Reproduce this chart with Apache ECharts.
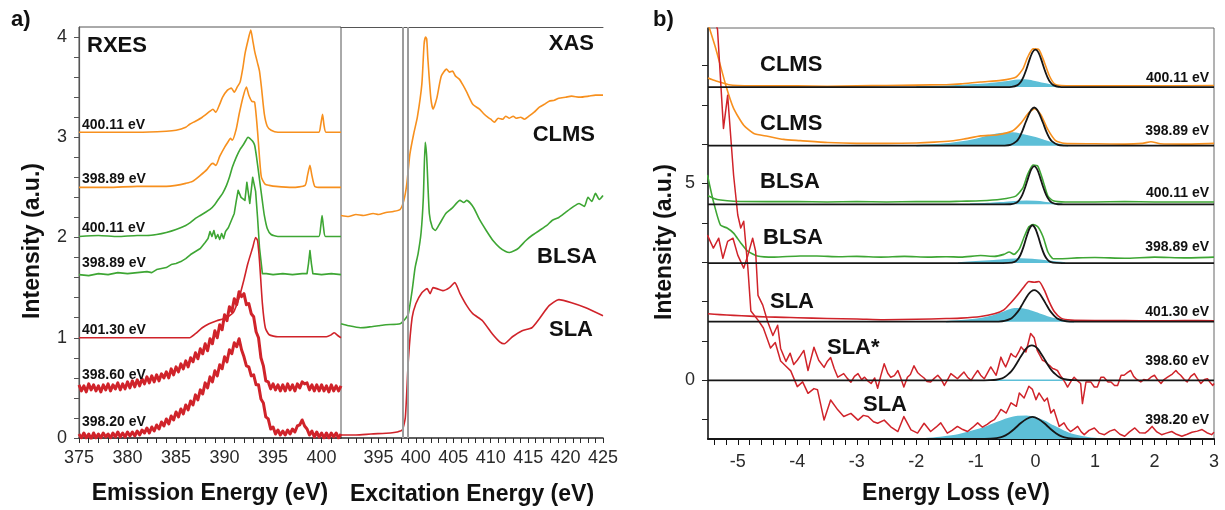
<!DOCTYPE html>
<html>
<head>
<meta charset="utf-8">
<script src="https://cdn.jsdelivr.net/npm/echarts@6/dist/echarts.min.js"></script>
<style>
  html, body { margin: 0; padding: 0; background: #ffffff; }
  #chart { width: 1225px; height: 510px; }
</style>
</head>
<body>
<div id="chart"></div>
<script>
// ---------- Panel a, left: RXES spectra [emission energy eV, intensity a.u.] ----------
const rxesClms40011 = [[375,3.05],[378,3.05],[381,3.05],[384,3.06],[385,3.07],[386,3.10],[386.4,3.13],[387,3.16],[387.7,3.20],[388.5,3.26],[388.8,3.28],[389.1,3.25],[389.5,3.33],[389.8,3.40],[390.3,3.47],[390.7,3.49],[391.0,3.45],[391.3,3.50],[391.6,3.55],[391.9,3.70],[392.1,3.83],[392.4,3.96],[392.7,4.07],[392.9,3.97],[393.1,3.86],[393.4,3.74],[393.6,3.66],[393.8,3.50],[394.1,3.23],[394.4,3.11],[394.8,3.07],[395.5,3.05],[399.7,3.05],[399.9,3.12],[400.1,3.23],[400.25,3.12],[400.45,3.05],[402,3.05]];
const rxesClms39889 = [[375,2.50],[378,2.50],[381,2.51],[384,2.51],[385,2.52],[386,2.54],[386.7,2.56],[387.5,2.62],[388.2,2.68],[388.6,2.73],[388.8,2.74],[389.1,2.72],[389.5,2.81],[390.0,2.90],[390.4,2.96],[390.6,2.99],[390.8,2.97],[391.2,3.08],[391.5,3.23],[391.9,3.40],[392.25,3.50],[392.5,3.42],[392.8,3.36],[393.1,3.35],[393.4,3.06],[393.6,2.80],[393.8,2.60],[394.2,2.53],[394.6,2.52],[395.3,2.51],[397,2.50],[398.3,2.52],[398.55,2.62],[398.8,2.72],[399.0,2.62],[399.3,2.51],[400,2.50],[402,2.50]];
const rxesBlsa40011 = [[375,2.01],[377,2.02],[379,2.01],[381,2.02],[382,2.02],[383,2.03],[384,2.05],[385,2.08],[386,2.12],[386.5,2.15],[387,2.19],[387.5,2.22],[388,2.25],[388.5,2.28],[389,2.33],[389.5,2.40],[389.8,2.44],[390.2,2.52],[390.5,2.60],[390.8,2.70],[391.2,2.80],[391.6,2.88],[391.9,2.92],[392.2,2.97],[392.4,3.00],[392.6,2.99],[392.9,2.96],[393.1,2.92],[393.3,2.80],[393.6,2.58],[393.9,2.36],[394.1,2.22],[394.4,2.09],[394.8,2.03],[395.5,2.01],[397,2.01],[399.7,2.01],[399.9,2.10],[400.05,2.22],[400.2,2.10],[400.4,2.01],[402,2.01]];
const rxesBlsa39889 = [[375,1.63],[376,1.62],[377,1.64],[378,1.63],[379,1.65],[380,1.64],[381,1.65],[382,1.66],[382.5,1.65],[383,1.68],[383.5,1.69],[384,1.70],[384.5,1.73],[385,1.74],[385.5,1.76],[386,1.79],[386.5,1.83],[387,1.86],[387.5,1.89],[388,1.95],[388.3,1.99],[388.5,2.06],[388.7,2.01],[388.9,2.07],[389.1,1.99],[389.3,2.03],[389.5,1.98],[389.7,2.04],[389.9,1.99],[390.1,2.06],[390.4,2.10],[390.7,2.17],[391.0,2.24],[391.2,2.36],[391.4,2.47],[391.7,2.40],[392.1,2.37],[392.3,2.55],[392.6,2.34],[392.9,2.60],[393.2,2.46],[393.4,2.20],[393.6,1.90],[393.9,1.64],[394.3,1.64],[395,1.63],[396,1.64],[397,1.63],[398,1.64],[398.5,1.64],[398.65,1.74],[398.8,1.87],[398.95,1.74],[399.1,1.64],[400,1.63],[401,1.64],[402,1.63]];
const rxesSla40130 = [[375,1.0],[380,1.0],[386.4,1.0],[387.0,1.04],[387.7,1.10],[388.4,1.14],[389.2,1.17],[389.9,1.19],[390.5,1.22],[390.9,1.25],[391.5,1.40],[392.0,1.58],[392.4,1.74],[392.9,1.90],[393.2,2.00],[393.4,1.97],[393.6,1.77],[393.9,1.34],[394.2,1.10],[394.6,1.03],[395.5,1.01],[400.5,1.01],[401.0,1.03],[401.3,1.05],[401.7,1.02],[402,1.0]];
const rxesSla39860 = [[375,0.53],[375.25,0.47],[375.5,0.52],[375.75,0.46],[376,0.54],[376.25,0.48],[376.5,0.53],[376.75,0.47],[377,0.52],[377.25,0.46],[377.5,0.53],[377.75,0.48],[378,0.54],[378.25,0.47],[378.5,0.53],[378.75,0.49],[379,0.55],[379.25,0.48],[379.5,0.54],[379.75,0.49],[380,0.56],[380.25,0.50],[380.5,0.57],[380.75,0.51],[381,0.58],[381.25,0.52],[381.5,0.59],[381.75,0.54],[382,0.61],[382.25,0.55],[382.5,0.62],[382.75,0.56],[383,0.63],[383.25,0.57],[383.5,0.64],[383.75,0.60],[384,0.66],[384.25,0.60],[384.5,0.69],[384.75,0.63],[385,0.71],[385.25,0.66],[385.5,0.74],[385.75,0.69],[386,0.77],[386.25,0.71],[386.5,0.80],[386.75,0.76],[387,0.85],[387.25,0.79],[387.5,0.89],[387.75,0.84],[388,0.94],[388.25,0.87],[388.5,0.99],[388.75,0.94],[389,1.07],[389.25,1.00],[389.5,1.13],[389.75,1.08],[390,1.23],[390.25,1.17],[390.5,1.31],[390.75,1.26],[391,1.39],[391.25,1.33],[391.5,1.46],[391.75,1.41],[392,1.44],[392.25,1.33],[392.5,1.34],[392.75,1.24],[393,1.21],[393.25,1.06],[393.5,1.00],[393.75,0.80],[394,0.72],[394.25,0.57],[394.5,0.56],[394.75,0.49],[395,0.54],[395.25,0.48],[395.5,0.53],[395.75,0.47],[396,0.53],[396.25,0.47],[396.5,0.54],[396.75,0.48],[397,0.53],[397.25,0.47],[397.5,0.54],[397.75,0.50],[398,0.56],[398.25,0.54],[398.5,0.55],[398.75,0.48],[399,0.53],[399.25,0.47],[399.5,0.53],[399.75,0.47],[400,0.53],[400.25,0.47],[400.5,0.52],[400.75,0.46],[401,0.53],[401.25,0.47],[401.5,0.52],[401.75,0.47],[402,0.52]];
const rxesSla39820 = [[375,0.04],[375.25,0.00],[375.5,0.05],[375.75,0.00],[376,0.04],[376.25,-0.01],[376.5,0.05],[376.75,0.00],[377,0.04],[377.25,0.00],[377.5,0.05],[377.75,0.01],[378,0.04],[378.25,0.00],[378.5,0.05],[378.75,0.01],[379,0.06],[379.25,0.01],[379.5,0.05],[379.75,0.01],[380,0.06],[380.25,0.02],[380.5,0.06],[380.75,0.02],[381,0.07],[381.25,0.03],[381.5,0.08],[381.75,0.05],[382,0.10],[382.25,0.05],[382.5,0.11],[382.75,0.07],[383,0.13],[383.25,0.09],[383.5,0.16],[383.75,0.12],[384,0.19],[384.25,0.14],[384.5,0.22],[384.75,0.18],[385,0.26],[385.25,0.21],[385.5,0.29],[385.75,0.24],[386,0.33],[386.25,0.28],[386.5,0.37],[386.75,0.33],[387,0.43],[387.25,0.38],[387.5,0.48],[387.75,0.44],[388,0.55],[388.25,0.50],[388.5,0.61],[388.75,0.56],[389,0.67],[389.25,0.62],[389.5,0.73],[389.75,0.69],[390,0.81],[390.25,0.76],[390.5,0.88],[390.75,0.84],[391,0.95],[391.25,0.91],[391.5,0.99],[391.75,0.88],[392,0.81],[392.25,0.72],[392.5,0.71],[392.75,0.62],[393,0.63],[393.25,0.53],[393.5,0.53],[393.75,0.39],[394,0.35],[394.25,0.21],[394.5,0.19],[394.75,0.09],[395,0.11],[395.25,0.04],[395.5,0.08],[395.75,0.03],[396,0.07],[396.25,0.03],[396.5,0.08],[396.75,0.04],[397,0.09],[397.25,0.06],[397.5,0.12],[397.75,0.13],[398,0.18],[398.25,0.12],[398.5,0.09],[398.75,0.03],[399,0.07],[399.25,0.01],[399.5,0.06],[399.75,0.01],[400,0.05],[400.25,0.00],[400.5,0.05],[400.75,0.00],[401,0.05],[401.25,0.01],[401.5,0.05],[401.75,0.00],[402,0.04]];

// ---------- Panel a, right: XAS spectra [excitation energy eV, intensity a.u.] ----------
const xasClms = [[390,2.22],[391,2.21],[392,2.23],[393,2.22],[394.3,2.24],[395,2.23],[396,2.25],[397,2.26],[397.9,2.28],[398.4,2.37],[398.8,2.54],[399.2,2.83],[399.7,3.03],[400.2,3.20],[400.8,3.53],[401.1,3.93],[401.3,4.00],[401.45,3.98],[401.6,3.79],[402.0,3.39],[402.3,3.28],[402.8,3.39],[403.4,3.61],[404.1,3.68],[404.5,3.65],[404.9,3.66],[405.3,3.61],[405.8,3.58],[406.3,3.52],[406.8,3.45],[407.6,3.33],[408.5,3.28],[409.0,3.24],[409.6,3.20],[410.0,3.18],[410.5,3.15],[411.0,3.19],[411.6,3.18],[412.0,3.21],[412.5,3.19],[413.0,3.21],[413.4,3.19],[414.0,3.20],[414.5,3.18],[415.1,3.21],[415.8,3.25],[416.5,3.30],[417.2,3.33],[417.8,3.36],[418.5,3.37],[419.1,3.39],[420.0,3.40],[420.8,3.41],[421.9,3.40],[423.1,3.41],[424,3.42],[425,3.42]];
const xasBlsa = [[390,1.14],[391,1.12],[392.6,1.10],[394,1.11],[395,1.12],[396,1.13],[397.9,1.14],[398.6,1.19],[399.0,1.24],[399.5,1.47],[399.9,1.70],[400.3,1.84],[400.7,2.05],[401.0,2.40],[401.25,2.95],[401.45,2.80],[401.8,2.24],[402.2,2.10],[402.6,2.07],[403.2,2.14],[404.0,2.24],[404.8,2.29],[405.9,2.37],[406.4,2.35],[406.8,2.37],[407.7,2.30],[408.5,2.18],[409.4,2.07],[410.3,1.97],[411.2,1.90],[412.0,1.86],[412.5,1.85],[413.2,1.87],[413.8,1.90],[414.7,1.97],[415.5,2.02],[416.5,2.07],[417.5,2.12],[418.2,2.17],[419.1,2.20],[420.0,2.25],[420.9,2.30],[421.8,2.34],[422.5,2.31],[423.0,2.40],[423.5,2.36],[424.0,2.44],[424.5,2.38],[425,2.42]];
const xasSla = [[390,0.03],[392,0.03],[394,0.04],[396.6,0.05],[397.5,0.06],[398.2,0.08],[398.6,0.21],[399.0,0.78],[399.5,1.20],[400.0,1.34],[400.8,1.45],[401.5,1.49],[401.9,1.44],[402.3,1.50],[402.8,1.49],[403.6,1.47],[404.5,1.50],[405.2,1.55],[405.9,1.44],[406.8,1.32],[407.6,1.24],[408.9,1.17],[410.2,1.04],[411.2,0.96],[411.8,0.94],[412.9,1.01],[414.2,1.07],[415.5,1.10],[416.5,1.19],[417.8,1.32],[419.1,1.38],[420.8,1.35],[422.7,1.30],[425,1.22]];
const xasMarkers = [398.2, 398.89];

// ---------- Panel b: energy-loss spectra [energy loss eV, intensity above baseline] ----------
const lossOffsets = [7.45, 5.96, 4.47, 2.98, 1.49, 0, -1.49];

const clms40011Loss = [[-5.5,0.23],[-5.4,0.17],[-5.29,0.12],[-5.15,0.06],[-5.0,0.04],[-4.5,0.03],[-4.0,0.03],[-3.5,0.02],[-3.0,0.03],[-2.5,0.04],[-2.0,0.05],[-1.5,0.06],[-1.25,0.08],[-0.92,0.13],[-0.58,0.17],[-0.33,0.25],[-0.21,0.46],[-0.13,0.76],[-0.04,0.97],[0.06,0.95],[0.15,0.63],[0.23,0.30],[0.32,0.08],[0.43,0.04],[1.0,0.03],[2.0,0.03],[3.0,0.04]];
const clms40011Fit = [[-5.5,0],[-0.5,0],[-0.4,0.005],[-0.3,0.05],[-0.25,0.12],[-0.2,0.26],[-0.15,0.46],[-0.1,0.69],[-0.05,0.88],[0,0.95],[0.05,0.88],[0.1,0.69],[0.15,0.46],[0.2,0.26],[0.25,0.12],[0.3,0.05],[0.4,0.005],[0.5,0],[3,0]];
const clms40011Comp = [[-2.0,0],[-1.5,0.02],[-1.1,0.05],[-0.8,0.08],[-0.5,0.13],[-0.3,0.17],[-0.18,0.18],[-0.05,0.15],[0.1,0.10],[0.25,0.05],[0.4,0]];

const clms39889Loss = [[-5.5,3.1],[-5.37,2.47],[-5.20,1.53],[-5.07,0.95],[-4.90,0.52],[-4.73,0.31],[-4.50,0.24],[-4.23,0.16],[-3.95,0.13],[-3.49,0.08],[-3.0,0.06],[-2.5,0.06],[-2.0,0.07],[-1.7,0.09],[-1.42,0.12],[-1.2,0.17],[-0.92,0.25],[-0.63,0.28],[-0.38,0.38],[-0.24,0.58],[-0.11,0.84],[-0.01,0.94],[0.09,0.79],[0.21,0.41],[0.34,0.13],[0.48,0.06],[1.0,0.05],[1.5,0.04],[1.8,0.06],[1.94,0.10],[2.1,0.05],[2.5,0.04],[3.0,0.06]];
const clms39889Fit = [[-5.5,0],[-0.62,0],[-0.52,0.002],[-0.42,0.02],[-0.32,0.11],[-0.27,0.21],[-0.22,0.37],[-0.17,0.57],[-0.12,0.76],[-0.07,0.91],[-0.02,0.97],[0.03,0.91],[0.08,0.76],[0.13,0.57],[0.18,0.37],[0.23,0.21],[0.28,0.11],[0.38,0.02],[0.48,0.002],[0.58,0],[3,0]];
const clms39889Comp = [[-2.0,0],[-1.6,0.03],[-1.3,0.08],[-1.0,0.16],[-0.75,0.26],[-0.55,0.31],[-0.38,0.32],[-0.2,0.27],[0,0.20],[0.15,0.13],[0.3,0.06],[0.45,0.02],[0.55,0]];

const blsa40011Loss = [[-5.5,0.22],[-5.4,0.15],[-5.29,0.11],[-5.07,0.08],[-4.5,0.07],[-4.0,0.07],[-3.5,0.06],[-3.0,0.07],[-2.5,0.06],[-2.0,0.07],[-1.5,0.07],[-1.25,0.08],[-0.92,0.09],[-0.58,0.13],[-0.33,0.21],[-0.21,0.42],[-0.13,0.76],[-0.04,1.0],[0.04,0.97],[0.13,0.59],[0.21,0.21],[0.30,0.09],[0.5,0.06],[1.0,0.06],[1.5,0.07],[2.0,0.06],[2.5,0.06],[3.0,0.06]];
const blsa40011Fit = [[-5.5,0],[-0.52,0],[-0.42,0.003],[-0.32,0.04],[-0.27,0.11],[-0.22,0.24],[-0.17,0.44],[-0.12,0.68],[-0.07,0.89],[-0.02,0.97],[0.03,0.89],[0.08,0.68],[0.13,0.44],[0.18,0.24],[0.23,0.11],[0.28,0.04],[0.38,0.003],[0.48,0],[3,0]];
const blsa40011Comp = [[-1.1,0],[-0.8,0.02],[-0.5,0.05],[-0.3,0.07],[-0.15,0.08],[0,0.07],[0.15,0.05],[0.3,0.02],[0.45,0]];

const blsa39889Loss = [[-5.51,2.24],[-5.41,1.57],[-5.29,0.96],[-5.18,0.89],[-5.07,0.76],[-4.95,0.51],[-4.84,0.31],[-4.67,0.18],[-4.39,0.15],[-3.95,0.18],[-3.67,0.18],[-3.3,0.16],[-3.0,0.17],[-2.6,0.15],[-2.2,0.17],[-1.8,0.15],[-1.5,0.16],[-1.25,0.15],[-0.92,0.19],[-0.69,0.17],[-0.53,0.22],[-0.44,0.28],[-0.36,0.22],[-0.27,0.36],[-0.19,0.66],[-0.11,0.92],[-0.04,0.98],[0.04,0.92],[0.13,0.66],[0.21,0.28],[0.30,0.11],[0.43,0.11],[0.7,0.13],[1.0,0.14],[1.5,0.12],[2.0,0.15],[2.5,0.13],[3.0,0.15]];
const blsa39889Fit = [[-5.5,0],[-0.55,0],[-0.45,0.002],[-0.35,0.03],[-0.3,0.09],[-0.25,0.21],[-0.2,0.41],[-0.15,0.66],[-0.1,0.87],[-0.05,0.96],[0,0.87],[0.05,0.66],[0.1,0.41],[0.15,0.21],[0.2,0.09],[0.25,0.03],[0.35,0.002],[0.45,0],[3,0]];
const blsa39889Comp = [[-1.3,0],[-1.0,0.03],[-0.7,0.06],[-0.45,0.09],[-0.25,0.10],[-0.05,0.09],[0.15,0.06],[0.3,0.03],[0.5,0]];

const sla40130Loss = [[-5.5,0.20],[-5.3,0.18],[-5.07,0.16],[-4.8,0.14],[-4.5,0.12],[-4.23,0.11],[-4.0,0.10],[-3.5,0.08],[-3.0,0.07],[-2.55,0.05],[-2.0,0.06],[-1.5,0.08],[-1.25,0.09],[-0.92,0.13],[-0.69,0.20],[-0.53,0.30],[-0.42,0.47],[-0.30,0.68],[-0.19,0.89],[-0.11,1.02],[-0.02,1.0],[0.06,1.02],[0.15,0.80],[0.23,0.51],[0.32,0.25],[0.43,0.09],[0.6,0.04],[1.0,0.03],[1.5,0.03],[2.0,0.02],[2.5,0.03],[3.0,0.02]];
const sla40130Fit = [[-5.5,0],[-0.72,0],[-0.62,0.003],[-0.52,0.02],[-0.42,0.07],[-0.37,0.13],[-0.32,0.21],[-0.27,0.31],[-0.22,0.44],[-0.17,0.57],[-0.12,0.69],[-0.07,0.77],[-0.02,0.8],[0.03,0.77],[0.08,0.69],[0.13,0.57],[0.18,0.44],[0.23,0.31],[0.28,0.21],[0.33,0.13],[0.38,0.07],[0.48,0.02],[0.58,0.003],[0.68,0],[3,0]];
const sla40130Comp = [[-1.5,0],[-1.2,0.03],[-0.9,0.08],[-0.7,0.15],[-0.5,0.26],[-0.35,0.33],[-0.25,0.33],[-0.1,0.28],[0.05,0.2],[0.2,0.12],[0.35,0.06],[0.5,0.02],[0.65,0]];

const sla39860Loss = [[-5.51,3.69],[-5.41,3.36],[-5.32,3.61],[-5.25,3.10],[-5.17,3.53],[-5.08,3.61],[-5.0,3.18],[-4.90,2.85],[-4.83,3.18],[-4.75,3.61],[-4.70,3.28],[-4.66,2.16],[-4.58,1.91],[-4.50,1.50],[-4.41,1.14],[-4.33,1.40],[-4.28,0.81],[-4.19,0.48],[-4.12,0.69],[-4.06,0.40],[-4.0,0.51],[-3.95,0.62],[-3.89,0.76],[-3.82,0.25],[-3.77,0.55],[-3.72,0.84],[-3.64,0.51],[-3.55,0.33],[-3.50,0.47],[-3.44,0.58],[-3.38,0.30],[-3.32,0.08],[-3.22,0.17],[-3.16,0.05],[-3.10,-0.05],[-3.04,0.10],[-2.98,0.17],[-2.92,0.02],[-2.87,0.08],[-2.81,-0.02],[-2.76,-0.08],[-2.70,0.06],[-2.65,-0.20],[-2.60,0.10],[-2.54,0.42],[-2.48,0.18],[-2.43,0.08],[-2.37,0.12],[-2.31,0.25],[-2.26,0.05],[-2.21,-0.17],[-2.15,0.08],[-2.10,0.15],[-2.04,0.37],[-1.98,0.20],[-1.93,0.13],[-1.87,0.06],[-1.82,-0.03],[-1.76,-0.04],[-1.70,0.05],[-1.64,0.13],[-1.58,0.02],[-1.53,-0.13],[-1.47,0.03],[-1.42,0.17],[-1.36,0.10],[-1.31,0.04],[-1.26,0.12],[-1.20,0.21],[-1.14,0.08],[-1.08,0.0],[-1.03,0.12],[-0.97,0.25],[-0.92,0.13],[-0.86,0.04],[-0.80,0.20],[-0.75,0.34],[-0.70,0.22],[-0.66,0.13],[-0.62,0.35],[-0.58,0.59],[-0.54,0.45],[-0.50,0.34],[-0.45,0.52],[-0.41,0.68],[-0.37,0.62],[-0.33,0.59],[-0.28,0.72],[-0.24,0.85],[-0.20,0.78],[-0.16,0.72],[-0.12,0.95],[-0.08,1.19],[-0.05,1.14],[-0.02,1.08],[0.03,0.76],[0.08,0.62],[0.12,0.51],[0.16,0.48],[0.20,0.42],[0.25,0.36],[0.29,0.30],[0.33,0.28],[0.37,0.25],[0.42,0.12],[0.46,0.04],[0.50,-0.06],[0.54,-0.17],[0.60,-0.02],[0.65,0.08],[0.70,0.0],[0.76,-0.08],[0.79,-0.59],[0.85,-0.04],[0.93,-0.04],[0.99,-0.17],[1.04,-0.17],[1.10,0.08],[1.15,0.08],[1.22,-0.04],[1.27,-0.04],[1.33,-0.13],[1.38,-0.13],[1.44,0.13],[1.49,0.13],[1.55,0.20],[1.60,0.25],[1.65,0.10],[1.69,0.04],[1.77,-0.04],[1.82,0.02],[1.88,0.0],[1.94,0.08],[2.0,0.13],[2.05,0.02],[2.11,-0.08],[2.16,0.02],[2.22,0.08],[2.30,0.16],[2.36,0.25],[2.40,0.18],[2.44,0.13],[2.50,0.02],[2.55,-0.04],[2.61,0.10],[2.67,0.17],[2.72,0.05],[2.78,-0.08],[2.84,0.02],[2.89,0.04],[2.94,-0.06],[2.98,-0.13],[3.0,-0.08]];
const sla39860Fit = [[-5.5,0],[-0.86,0],[-0.76,0.003],[-0.66,0.015],[-0.56,0.05],[-0.51,0.09],[-0.46,0.15],[-0.41,0.22],[-0.36,0.32],[-0.31,0.44],[-0.26,0.57],[-0.21,0.69],[-0.16,0.80],[-0.11,0.865],[-0.06,0.89],[-0.01,0.865],[0.04,0.80],[0.09,0.69],[0.14,0.57],[0.19,0.44],[0.24,0.32],[0.29,0.22],[0.34,0.15],[0.39,0.09],[0.44,0.05],[0.54,0.015],[0.64,0.003],[0.74,0],[3,0]];
const sla39860Comp = [[-0.8,0],[0.7,0]];

const sla39820Loss = [[-5.45,11.0],[-5.34,10.4],[-5.24,7.89],[-5.17,8.73],[-5.07,6.70],[-5.0,5.69],[-4.95,5.36],[-4.90,5.53],[-4.83,4.34],[-4.78,3.25],[-4.65,3.0],[-4.57,2.82],[-4.45,2.31],[-4.37,2.45],[-4.28,1.98],[-4.19,1.85],[-4.11,1.73],[-4.0,1.33],[-3.91,1.45],[-3.82,1.16],[-3.72,1.28],[-3.66,1.25],[-3.55,0.48],[-3.44,0.99],[-3.32,0.74],[-3.22,0.57],[-3.10,0.65],[-2.98,0.48],[-2.89,0.60],[-2.81,0.57],[-2.72,0.44],[-2.65,0.40],[-2.54,0.48],[-2.43,0.31],[-2.31,0.19],[-2.21,0.57],[-2.09,0.23],[-1.98,0.15],[-1.87,0.40],[-1.76,0.19],[-1.67,0.30],[-1.59,0.41],[-1.48,0.15],[-1.40,0.22],[-1.31,0.32],[-1.22,0.24],[-1.14,0.19],[-1.05,0.30],[-0.97,0.41],[-0.89,0.30],[-0.81,0.37],[-0.75,0.44],[-0.69,0.49],[-0.63,0.62],[-0.58,0.75],[-0.49,0.66],[-0.41,0.92],[-0.32,0.83],[-0.27,1.17],[-0.19,1.04],[-0.11,1.34],[-0.05,1.26],[0.01,1.0],[0.06,1.17],[0.15,0.96],[0.2,1.04],[0.26,0.66],[0.31,0.75],[0.40,0.32],[0.48,0.41],[0.54,0.26],[0.59,0.19],[0.65,0.25],[0.71,0.32],[0.77,0.18],[0.82,0.11],[0.90,0.22],[0.99,0.28],[1.07,0.15],[1.16,0.11],[1.25,0.20],[1.33,0.24],[1.42,0.12],[1.5,0.07],[1.58,0.18],[1.67,0.28],[1.75,0.16],[1.84,0.15],[1.90,0.22],[1.96,0.32],[2.04,0.18],[2.12,0.11],[2.20,0.15],[2.29,0.19],[2.37,0.12],[2.46,0.07],[2.55,0.12],[2.63,0.17],[2.72,0.20],[2.8,0.24],[2.88,0.16],[2.96,0.11],[3.0,0.17]];
const sla39820Fit = [[-5.5,0],[-0.95,0],[-0.85,0.002],[-0.75,0.008],[-0.65,0.025],[-0.55,0.06],[-0.45,0.14],[-0.35,0.26],[-0.25,0.40],[-0.15,0.51],[-0.05,0.56],[0.05,0.51],[0.15,0.40],[0.25,0.26],[0.35,0.14],[0.45,0.06],[0.55,0.025],[0.65,0.008],[0.75,0.002],[0.85,0],[3,0]];
const sla39820Comp = [[-1.9,0],[-1.6,0.04],[-1.3,0.10],[-1.0,0.22],[-0.8,0.32],[-0.6,0.44],[-0.45,0.52],[-0.3,0.57],[-0.15,0.58],[0,0.54],[0.15,0.45],[0.3,0.33],[0.45,0.22],[0.6,0.12],[0.8,0.05],[1.0,0.01],[1.1,0]];

// ---------- Tick and label values ----------
const rxesTicks = [375,376,377,378,379,380,381,382,383,384,385,386,387,388,389,390,391,392,393,394,395,396,397,398,399,400,401];
const rxesLabels = [375,380,385,390,395,400];
const xasTicks = [391,392,393,394,395,396,397,398,399,400,401,402,403,404,405,406,407,408,409,410,411,412,413,414,415,416,417,418,419,420,421,422,423,424,425];
const xasLabels = [395,400,405,410,415,420,425];
const intensityTicks = [0,0.2,0.4,0.6,0.8,1,1.2,1.4,1.6,1.8,2,2.2,2.4,2.6,2.8,3,3.2,3.4,3.6,3.8,4];
const intensityLabels = [0,1,2,3,4];
const lossTicks = [-5.4,-5.2,-5,-4.8,-4.6,-4.4,-4.2,-4,-3.8,-3.6,-3.4,-3.2,-3,-2.8,-2.6,-2.4,-2.2,-2,-1.8,-1.6,-1.4,-1.2,-1,-0.8,-0.6,-0.4,-0.2,0,0.2,0.4,0.6,0.8,1,1.2,1.4,1.6,1.8,2,2.2,2.4,2.6,2.8,3];
const lossLabels = [-5,-4,-3,-2,-1,0,1,2,3];
const lossIntensityTicks = [-1,0,1,2,3,4,5,6,7,8];
const lossIntensityLabels = [0,5];

// ---------- Styling ----------
const FONT = '"Liberation Sans", Arial, Helvetica, sans-serif';
const ORANGE = '#f7901e';
const GREEN = '#3ea634';
const RED = '#d0232a';
const CYAN = '#5dbfd7';
const FIT = '#161616';
const AXIS = '#2b2b2b';

function lift(points, off) {
  return points.map(p => [p[0], p[1] + off]);
}

function line(data, color, width, xi, yi, extra) {
  return Object.assign({
    type: 'line', data: data, xAxisIndex: xi, yAxisIndex: yi,
    symbol: 'none', showSymbol: false, animation: false, silent: true,
    lineStyle: { color: color, width: width, join: 'round' }
  }, extra || {});
}

const series = [];

// RXES curves
series.push(line(rxesClms40011, ORANGE, 1.6, 0, 0, { smooth: 0.2 }));
series.push(line(rxesClms39889, ORANGE, 1.6, 0, 0, { smooth: 0.2 }));
series.push(line(rxesBlsa40011, GREEN, 1.6, 0, 0, { smooth: 0.2 }));
series.push(line(rxesBlsa39889, GREEN, 1.6, 0, 0));
series.push(line(rxesSla40130, RED, 1.6, 0, 0, { smooth: 0.2 }));
series.push(line(rxesSla39860, RED, 3, 0, 0));
series.push(line(rxesSla39820, RED, 3, 0, 0));

// XAS curves with the two excitation markers
series.push(line(xasClms, ORANGE, 1.6, 1, 1, {
  smooth: 0.2,
  markLine: {
    silent: true, symbol: ['none', 'none'], label: { show: false },
    lineStyle: { color: '#9c9c9c', width: 2, type: 'solid' },
    data: xasMarkers.map(v => ({ xAxis: v }))
  }
}));
series.push(line(xasBlsa, GREEN, 1.6, 1, 1, { smooth: 0.2 }));
series.push(line(xasSla, RED, 1.6, 1, 1, { smooth: 0.2 }));

// Energy-loss rows: measured curve, fitted elastic peak, extra component
const lossRows = [
  { data: clms40011Loss, fit: clms40011Fit, comp: clms40011Comp, color: ORANGE },
  { data: clms39889Loss, fit: clms39889Fit, comp: clms39889Comp, color: ORANGE },
  { data: blsa40011Loss, fit: blsa40011Fit, comp: blsa40011Comp, color: GREEN },
  { data: blsa39889Loss, fit: blsa39889Fit, comp: blsa39889Comp, color: GREEN },
  { data: sla40130Loss, fit: sla40130Fit, comp: sla40130Comp, color: RED },
  { data: sla39860Loss, fit: sla39860Fit, comp: sla39860Comp, color: RED },
  { data: sla39820Loss, fit: sla39820Fit, comp: sla39820Comp, color: RED }
];
lossRows.forEach((r, i) => {
  series.push(line(lift(r.comp, lossOffsets[i]), CYAN, 1.5, 3, 2, {
    smooth: 0.3, z: 2,
    areaStyle: { color: CYAN, opacity: 1, origin: lossOffsets[i] }
  }));
});
lossRows.forEach((r, i) => {
  const noisy = i >= 5;
  series.push(line(lift(r.data, lossOffsets[i]), r.color, noisy ? 1.5 : 1.6, 3, 2, { z: 3, smooth: noisy ? 0 : 0.2 }));
});
lossRows.forEach((r, i) => {
  series.push(line(lift(r.fit, lossOffsets[i]), FIT, 1.8, 3, 2, { z: 4, smooth: 0.25 }));
});

// ---------- Text ----------
function txt(text, x, y, size, align, weight, rotate) {
  return {
    type: 'text', x: x, y: y, rotation: rotate || 0, silent: true, z: 20,
    style: {
      text: text, fill: '#111', fontFamily: FONT, fontSize: size,
      fontWeight: weight || 'bold', textAlign: align || 'left', textVerticalAlign: 'middle'
    }
  };
}

const graphics = [
  txt('a)', 11, 20, 22, 'left'),
  txt('b)', 653, 20, 22, 'left'),
  txt('RXES', 87, 46, 22, 'left'),
  txt('XAS', 594, 44, 22, 'right'),
  txt('CLMS', 595, 135, 22, 'right'),
  txt('BLSA', 597, 257, 22, 'right'),
  txt('SLA', 593, 330, 22, 'right'),
  txt('400.11 eV', 82, 125, 14, 'left'),
  txt('398.89 eV', 82, 179, 14, 'left'),
  txt('400.11 eV', 82, 228, 14, 'left'),
  txt('398.89 eV', 82, 263, 14, 'left'),
  txt('401.30 eV', 82, 330, 14, 'left'),
  txt('398.60 eV', 82, 375, 14, 'left'),
  txt('398.20 eV', 82, 422, 14, 'left'),
  txt('CLMS', 760, 65, 22, 'left'),
  txt('CLMS', 760, 124, 22, 'left'),
  txt('BLSA', 760, 182, 22, 'left'),
  txt('BLSA', 763, 238, 22, 'left'),
  txt('SLA', 770, 302, 22, 'left'),
  txt('SLA*', 827, 348, 22, 'left'),
  txt('SLA', 863, 405, 22, 'left'),
  txt('400.11 eV', 1209, 78, 14, 'right'),
  txt('398.89 eV', 1209, 131, 14, 'right'),
  txt('400.11 eV', 1209, 193, 14, 'right'),
  txt('398.89 eV', 1209, 247, 14, 'right'),
  txt('401.30 eV', 1209, 312, 14, 'right'),
  txt('398.60 eV', 1209, 361, 14, 'right'),
  txt('398.20 eV', 1209, 420, 14, 'right'),
  txt('Emission Energy (eV)', 210, 494, 23, 'center'),
  txt('Excitation Energy (eV)', 472, 495, 23, 'center'),
  txt('Energy Loss (eV)', 956, 494, 23, 'center'),
  txt('Intensity (a.u.)', 33, 241, 23, 'center', 'bold', Math.PI / 2),
  txt('Intensity (a.u.)', 665, 242, 23, 'center', 'bold', Math.PI / 2)
];

// ---------- Axes ----------
const tickLabel = { color: '#2a2a2a', fontFamily: FONT, fontSize: 18 };

const option = {
  backgroundColor: '#ffffff',
  animation: false,
  grid: [
    { left: 79, top: 27, width: 262, height: 411, show: true, borderColor: '#555', borderWidth: 1 },
    { left: 341, top: 27, width: 262, height: 411, show: false },
    { left: 708, top: 28, width: 506, height: 411, show: true, borderColor: '#666', borderWidth: 1 }
  ],
  xAxis: [
    { type: 'value', gridIndex: 0, min: 375, max: 402, position: 'bottom',
      axisLine: { show: true, lineStyle: { color: AXIS, width: 1.5 } },
      axisTick: { show: true, length: 5, customValues: rxesTicks, lineStyle: { color: AXIS } },
      axisLabel: Object.assign({ customValues: rxesLabels, margin: 11 }, tickLabel),
      splitLine: { show: false } },
    { type: 'value', gridIndex: 1, min: 390, max: 425, position: 'bottom',
      axisLine: { show: true, lineStyle: { color: AXIS, width: 1.5 } },
      axisTick: { show: true, length: 5, customValues: xasTicks, lineStyle: { color: AXIS } },
      axisLabel: Object.assign({ customValues: xasLabels, margin: 11 }, tickLabel),
      splitLine: { show: false } },
    { type: 'value', gridIndex: 1, min: 390, max: 425, position: 'top',
      axisLine: { show: true, lineStyle: { color: '#555', width: 1 } },
      axisTick: { show: false }, axisLabel: { show: false }, splitLine: { show: false } },
    { type: 'value', gridIndex: 2, min: -5.5, max: 3, position: 'bottom',
      axisLine: { show: true, onZero: false, lineStyle: { color: '#111', width: 2 } },
      axisTick: { show: true, length: 6, customValues: lossTicks, lineStyle: { color: '#111' } },
      axisLabel: Object.assign({ customValues: lossLabels, margin: 14 }, tickLabel),
      splitLine: { show: false } }
  ],
  yAxis: [
    { type: 'value', gridIndex: 0, min: 0, max: 4.1, position: 'left',
      axisLine: { show: true, lineStyle: { color: '#555', width: 1.2 } },
      axisTick: { show: true, length: 5, customValues: intensityTicks, lineStyle: { color: '#555' } },
      axisLabel: Object.assign({ customValues: intensityLabels, margin: 12 }, tickLabel),
      splitLine: { show: false } },
    { type: 'value', gridIndex: 1, min: 0, max: 4.1, show: false, splitLine: { show: false } },
    { type: 'value', gridIndex: 2, min: -1.49, max: 8.95, position: 'left',
      axisLine: { show: true, onZero: false, lineStyle: { color: '#222', width: 1.5 } },
      axisTick: { show: true, length: 6, customValues: lossIntensityTicks, lineStyle: { color: '#222' } },
      axisLabel: Object.assign({ customValues: lossIntensityLabels, margin: 13 }, tickLabel),
      splitLine: { show: false } }
  ],
  series: series,
  graphic: graphics
};

const chart = echarts.init(document.getElementById('chart'), null, { renderer: 'canvas' });
chart.setOption(option);
</script>
</body>
</html>
